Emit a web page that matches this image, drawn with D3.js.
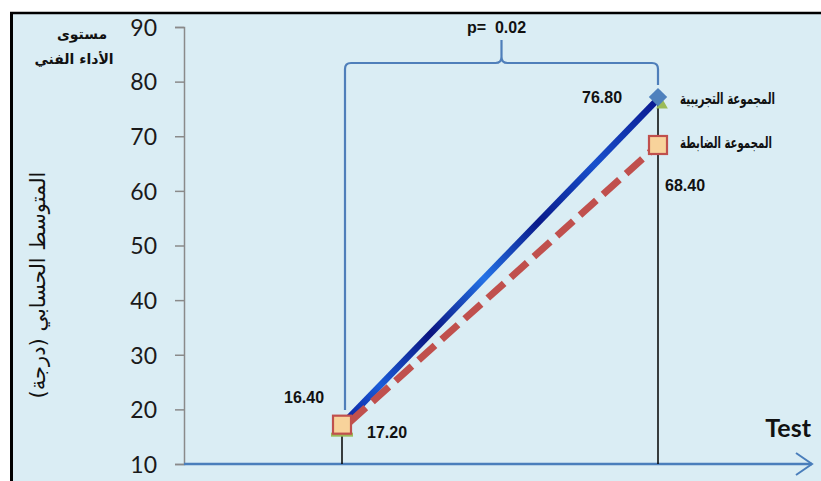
<!DOCTYPE html>
<html><head><meta charset="utf-8">
<script src="https://cdn.jsdelivr.net/npm/d3@7"></script>
<style>html,body{margin:0;padding:0;background:#fff;}svg{display:block;}</style>
</head><body>
<script>
const tests = [0, 1];
const experimental = [17.2, 76.8];
const control = [16.4, 68.4];
const yTicks = [10, 20, 30, 40, 50, 60, 70, 80, 90];
const seriesNames = ["المجموعة التجريبية", "المجموعة الضابطة"];
const valueLabels = ["16.40", "17.20", "76.80", "68.40"];
const pText = "p=  0.02";

const W = 821, H = 481;
const svg = d3.select("body").append("svg").attr("width", W).attr("height", H);

svg.append("rect").attr("x", 10).attr("y", 12).attr("width", W - 10).attr("height", H - 12).attr("fill", "#daedf4");
svg.append("line").attr("x1", 11.5).attr("x2", 11.5).attr("y1", 12).attr("y2", H).attr("stroke", "#000").attr("stroke-width", 3);
svg.append("line").attr("x1", 10).attr("x2", W).attr("y1", 13).attr("y2", 13).attr("stroke", "#000").attr("stroke-width", 2.5);

const x = d3.scaleLinear().domain([0, 1]).range([342, 658]);
const y = d3.scaleLinear().domain([10, 90]).range([464, 27]);

// y axis
const yAxis = d3.axisLeft(y).tickValues(yTicks).tickSize(9).tickPadding(18).tickFormat(d3.format("d"));
const gy = svg.append("g").attr("transform", "translate(184,0)").call(yAxis);
gy.select(".domain").attr("stroke", "#8a8a8a").attr("stroke-width", 1.5);
gy.selectAll(".tick line").attr("stroke", "#8a8a8a").attr("stroke-width", 1.5);
gy.selectAll(".tick text").attr("font-family", "Lato, 'Open Sans', sans-serif").attr("font-size", 23).attr("fill", "#1a1a1a").attr("dy", "0.36em");

// x axis with arrow
svg.append("line").attr("x1", 184).attr("x2", 812).attr("y1", y(10)).attr("y2", y(10)).attr("stroke", "#4a7ebb").attr("stroke-width", 2.5);
svg.append("path").attr("d", `M796,${y(10) - 11} L812,${y(10)} L796,${y(10) + 11}`).attr("fill", "none").attr("stroke", "#4a7ebb").attr("stroke-width", 2);

// vertical drop lines
svg.append("line").attr("x1", x(0)).attr("x2", x(0)).attr("y1", y(experimental[0])).attr("y2", y(10)).attr("stroke", "#000").attr("stroke-width", 1.5);
svg.append("line").attr("x1", x(1)).attr("x2", x(1)).attr("y1", y(experimental[1])).attr("y2", y(10)).attr("stroke", "#000").attr("stroke-width", 1.5);

// bracket
const bx0 = x(0) + 3, bx1 = x(1), by = 63, mid = (bx0 + bx1) / 2;
const bracket = `M${bx0},410 L${bx0},${by + 6} Q${bx0},${by} ${bx0 + 6},${by} L${mid - 6},${by} Q${mid},${by} ${mid},${by - 6} L${mid},40 M${mid},${by - 6} Q${mid},${by} ${mid + 6},${by} L${bx1 - 6},${by} Q${bx1},${by} ${bx1},${by + 6} L${bx1},85`;
svg.append("path").attr("d", bracket).attr("fill", "none").attr("stroke", "#4f7fba").attr("stroke-width", 2.2);
svg.append("text").attr("x", mid - 5).attr("y", 33).attr("text-anchor", "middle").attr("font-family", "'Liberation Sans', Arial, sans-serif").attr("font-weight", "bold").attr("font-size", 16).attr("fill", "#111").attr("xml:space", "preserve").text(pText);

// gradient for experimental line
const defs = svg.append("defs");
const grad = defs.append("linearGradient").attr("id", "bl").attr("gradientUnits", "userSpaceOnUse")
  .attr("x1", x(0)).attr("y1", y(experimental[0])).attr("x2", x(1)).attr("y2", y(experimental[1]));
[[0, "#0a1c9a"], [0.12, "#1a5cd8"], [0.28, "#0a1480"], [0.45, "#2472e6"], [0.62, "#0a1a8a"], [0.8, "#1850cc"], [1, "#0a1890"]]
  .forEach(s => grad.append("stop").attr("offset", s[0]).attr("stop-color", s[1]));

const line = d3.line().x((d, i) => x(tests[i])).y(d => y(d));

// experimental line
svg.append("path").datum(experimental).attr("d", line).attr("fill", "none").attr("stroke", "url(#bl)").attr("stroke-width", 6.5);
// control dashed line
svg.append("path").datum(control).attr("d", line).attr("fill", "none").attr("stroke", "#c0504d").attr("stroke-width", 7).attr("stroke-dasharray", "22,9").attr("stroke-dashoffset", -10);

// green triangles (hidden series)
const tri = d3.symbol().type(d3.symbolTriangle).size(60);
svg.append("path").attr("d", tri).attr("transform", `translate(${x(1) + 4},${y(experimental[1]) + 6})`).attr("fill", "#9bbb59");
svg.append("rect").attr("x", x(0) - 11).attr("y", y(experimental[0]) + 8).attr("width", 22).attr("height", 4).attr("fill", "#9bbb59");

// markers
const sq = 18;
svg.selectAll("rect.sq").data(control).enter().append("rect").attr("class", "sq")
  .attr("x", (d, i) => x(tests[i]) - sq / 2).attr("y", (d, i) => (i === 0 ? y(experimental[0]) : y(d)) - sq / 2)
  .attr("width", sq).attr("height", sq).attr("fill", "#f8d39b").attr("stroke", "#c0504d").attr("stroke-width", 2.2);
svg.append("rect").attr("x", -6.5).attr("y", -6.5).attr("width", 13).attr("height", 13)
  .attr("transform", `translate(${x(1)},${y(experimental[1]) - 2}) rotate(45)`).attr("fill", "#4f81bd");

// value labels
const vf = "'Liberation Sans', Arial, sans-serif";
const vl = [[x(0) - 58, 403, valueLabels[0]], [x(0) + 25, 438, valueLabels[1]], [x(1) - 76, 103, valueLabels[2]], [x(1) + 7, 191, valueLabels[3]]];
svg.selectAll("text.vl").data(vl).enter().append("text").attr("class", "vl").attr("x", d => d[0]).attr("y", d => d[1])
  .attr("font-family", vf).attr("font-weight", "bold").attr("font-size", 16).attr("fill", "#111").text(d => d[2]);

// legend labels (horizontally condensed to match the narrow Arabic face)
const af = "'DejaVu Sans', sans-serif";
const legendPos = [[775, 104, 95], [772, 148, 92]];
seriesNames.forEach((name, i) => {
  const g = svg.append("g");
  const t = g.append("text").attr("x", 0).attr("y", 0).attr("text-anchor", "end").attr("font-family", af)
    .attr("font-weight", "bold").attr("font-size", 16).attr("fill", "#111").text(name);
  const w = t.node().getComputedTextLength() || legendPos[i][2];
  g.attr("transform", `translate(${legendPos[i][0]},${legendPos[i][1]}) scale(${legendPos[i][2] / w},1)`);
});

// Test label
svg.append("text").attr("x", 811).attr("y", 437).attr("text-anchor", "end").attr("font-family", "Lato, 'Open Sans', sans-serif").attr("font-weight", "bold").attr("font-size", 25).attr("fill", "#111").text("Test");

// top-left title
svg.append("text").attr("x", 82).attr("y", 39).attr("text-anchor", "middle").attr("font-family", af).attr("font-weight", "bold").attr("font-size", 14).attr("fill", "#111").text("مستوى");
svg.append("text").attr("x", 74).attr("y", 64).attr("text-anchor", "middle").attr("font-family", af).attr("font-weight", "bold").attr("font-size", 14).attr("fill", "#111").text("الأداء الفني");

// y axis title
svg.append("text").attr("transform", "translate(45,285) rotate(-90)").attr("text-anchor", "middle").attr("font-family", af).attr("font-size", 21).attr("fill", "#111").text("المتوسط الحسابي (درجة)");
</script>
</body></html>
